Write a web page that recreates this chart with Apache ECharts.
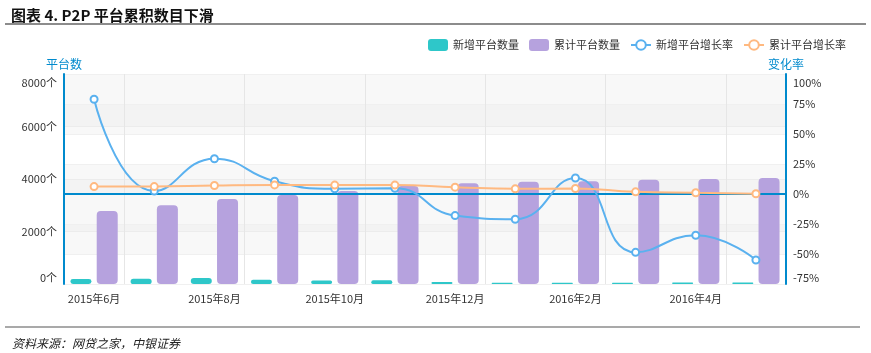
<!DOCTYPE html>
<html>
<head>
<meta charset="utf-8">
<script src="https://cdn.jsdelivr.net/npm/echarts@6/dist/echarts.min.js"></script>
<style>
  html, body { margin: 0; padding: 0; background: #fff; }
  #main { width: 871px; height: 353px; }
</style>
</head>
<body>
<div id="main"></div>
<script>
// 月份
const months = ['2015年6月', '2015年7月', '2015年8月', '2015年9月', '2015年10月', '2015年11月',
  '2015年12月', '2016年1月', '2016年2月', '2016年3月', '2016年4月', '2016年5月'];
// 平台数（个）
const newPlatforms = [190, 200, 230, 160, 130, 140, 80, 50, 45, 50, 55, 55];
const totalPlatforms = [2780, 3000, 3240, 3390, 3545, 3735, 3835, 3895, 3910, 3975, 4000, 4040];
// 变化率（%）
const newGrowth = [79, 2.5, 29.4, 10.6, 4.4, 4.7, -18, -21, 13.3, -48.6, -34.4, -55];
const totalGrowth = [6.2, 6.2, 7.1, 7.6, 7.4, 7.4, 5.7, 4.3, 4.6, 1.8, 1, 0.2];
// 刻度
const leftTicks = { min: 0, max: 8000, step: 2000 };
const rightTicks = { min: -75, max: 100, step: 25 };

const font = '"Noto Sans CJK SC", "Noto Sans", sans-serif';
const blue = '#008acd';
const splitColors = ['rgba(255,255,255,0)', 'rgba(225,225,225,0.22)'];
const oddOnly = (idx) => idx % 2 === 1;

// 首尾刻度文字向内收
const edgeLabel = (min, max, suffix) => (val) => {
  const txt = val + suffix;
  if (val === max) return '{top|' + txt + '}';
  if (val === min) return '{bot|' + txt + '}';
  return txt;
};

const chart = echarts.init(document.getElementById('main'));

chart.setOption({
  animation: false,
  textStyle: { fontFamily: font },
  title: [
    {
      text: '图表 4. P2P 平台累积数目下滑',
      left: 6, top: 3,
      textStyle: { fontSize: 15, fontWeight: 'bold', color: '#111', fontFamily: font }
    },
    {
      text: '资料来源：网贷之家，中银证券',
      left: 7, top: 332,
      textStyle: { fontSize: 12, fontWeight: 'normal', fontStyle: 'italic', color: '#222', fontFamily: font }
    }
  ],
  graphic: [
    { type: 'line', shape: { x1: 5, y1: 24, x2: 866, y2: 24 }, style: { stroke: '#666', lineWidth: 1.5 } },
    { type: 'line', shape: { x1: 5, y1: 327, x2: 860, y2: 327 }, style: { stroke: '#555', lineWidth: 1.2 } }
  ],
  legend: {
    right: 20, top: 34,
    itemWidth: 20, itemHeight: 12, itemGap: 10,
    textStyle: { fontSize: 11, color: '#333' },
    data: [
      { name: '新增平台数量', icon: 'roundRect' },
      { name: '累计平台数量', icon: 'roundRect' },
      '新增平台增长率',
      '累计平台增长率'
    ]
  },
  grid: { left: 64, right: 85, top: 74, bottom: 69 },
  xAxis: [
    {
      type: 'category',
      data: months,
      axisLine: { show: false },
      axisTick: { show: false },
      axisLabel: { interval: 1, fontSize: 11, color: '#333', margin: 9 },
      splitLine: { show: true, interval: oddOnly, lineStyle: { color: '#e6e6e6' } }
    },
    {
      type: 'category',
      data: months,
      z: 2,
      axisLine: { onZero: true, onZeroAxisIndex: 1, lineStyle: { color: blue, width: 2 } },
      axisTick: { inside: true, length: 5, interval: oddOnly, lineStyle: { color: '#333' } },
      axisLabel: { show: false },
      splitLine: { show: false }
    }
  ],
  yAxis: [
    {
      type: 'value',
      name: '平台数',
      nameGap: 4,
      nameTextStyle: { color: blue, fontSize: 12 },
      min: leftTicks.min, max: leftTicks.max, interval: leftTicks.step,
      axisLine: { show: true, lineStyle: { color: blue, width: 2 } },
      axisTick: { show: false },
      axisLabel: {
        fontSize: 11, color: '#333', margin: 7,
        formatter: edgeLabel(leftTicks.min, leftTicks.max, '个'),
        rich: { top: { padding: [18, 0, 0, 0] }, bot: { padding: [0, 0, 12, 0] } }
      },
      splitLine: { lineStyle: { color: '#f0f0f0' } },
      splitArea: { show: true, areaStyle: { color: splitColors } }
    },
    {
      type: 'value',
      name: '变化率',
      nameGap: 4,
      nameTextStyle: { color: blue, fontSize: 12 },
      min: rightTicks.min, max: rightTicks.max, interval: rightTicks.step,
      axisLine: { show: true, lineStyle: { color: blue, width: 2 } },
      axisTick: { show: false },
      axisLabel: {
        fontSize: 11, color: '#333', margin: 7,
        formatter: edgeLabel(rightTicks.min, rightTicks.max, '%'),
        rich: { top: { padding: [18, 0, 0, 0] }, bot: { padding: [0, 0, 12, 0] } }
      },
      splitLine: { lineStyle: { color: '#f0f0f0' } },
      splitArea: { show: true, areaStyle: { color: splitColors } }
    }
  ],
  series: [
    {
      name: '新增平台数量',
      type: 'bar',
      z: 1,
      barWidth: 21,
      barGap: '25%',
      itemStyle: { color: '#2ec7c9', borderRadius: 3 },
      data: newPlatforms
    },
    {
      name: '累计平台数量',
      type: 'bar',
      z: 1,
      barWidth: 21,
      barGap: '25%',
      itemStyle: { color: '#b6a2de', borderRadius: 4 },
      data: totalPlatforms
    },
    {
      name: '新增平台增长率',
      type: 'line',
      yAxisIndex: 1,
      z: 3,
      smooth: true,
      symbol: 'emptyCircle',
      symbolSize: 7,
      lineStyle: { color: '#5ab1ef', width: 2 },
      itemStyle: { color: '#5ab1ef', borderWidth: 2 },
      data: newGrowth
    },
    {
      name: '累计平台增长率',
      type: 'line',
      yAxisIndex: 1,
      z: 3,
      smooth: true,
      symbol: 'emptyCircle',
      symbolSize: 7,
      lineStyle: { color: '#ffb980', width: 2 },
      itemStyle: { color: '#ffb980', borderWidth: 2 },
      data: totalGrowth
    }
  ]
});
</script>
</body>
</html>
